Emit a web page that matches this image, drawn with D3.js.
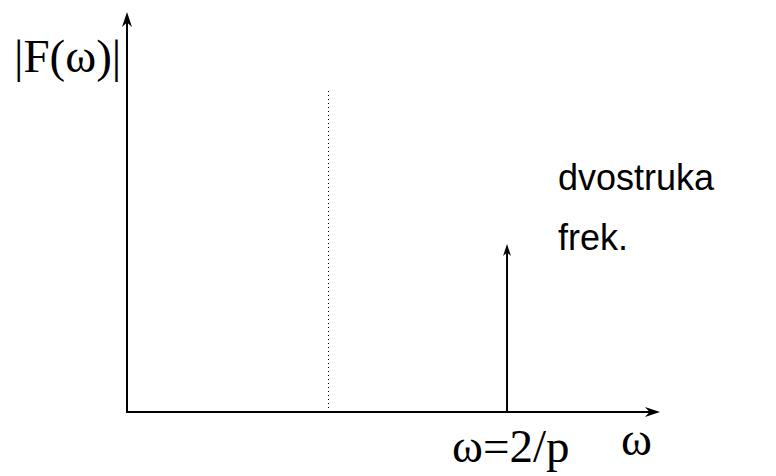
<!DOCTYPE html>
<html>
<head>
<meta charset="utf-8">
<script src="https://cdn.jsdelivr.net/npm/d3@7"></script>
<style>
  body { margin: 0; background: #fff; }
</style>
</head>
<body>
<svg id="chart"></svg>
<script>
// chart values (x and y in axis units, 0..100)
var dashedX = [37.7];          // dotted vertical guide
var dashedTop = [81];
var peakX = [71.3];            // single spectral line
var peakHeight = [42];
var yLabel = "|F(\u03c9)|";
var xLabel = "\u03c9";
var peakLabel = "\u03c9=2/p";
var noteLines = ["dvostruka", "frek."];

var width = 776, height = 476;
var margin = {left: 127, right: 116, top: 12, bottom: 64};

var svg = d3.select("#chart")
    .attr("width", width)
    .attr("height", height);

var x = d3.scaleLinear().domain([0, 100]).range([margin.left, width - margin.right]);
var y = d3.scaleLinear().domain([0, 100]).range([height - margin.bottom, margin.top]);

// stealth-like arrow head
function arrowHead(tx, ty, dir, len, half) {
    // dir: "up" or "right"
    var p;
    if (dir == "up") {
        p = [[tx, ty], [tx + half, ty + len], [tx, ty + len * 0.7], [tx - half, ty + len]];
    } else {
        p = [[tx, ty], [tx - len, ty - half], [tx - len * 0.7, ty], [tx - len, ty + half]];
    }
    svg.append("path")
        .attr("d", "M" + p.map(d => d.join(",")).join("L") + "Z")
        .attr("fill", "black");
}

// axes
svg.append("line")
    .attr("x1", x(0)).attr("y1", y(0))
    .attr("x2", x(0)).attr("y2", y(100) + 8)
    .attr("stroke", "black").attr("stroke-width", 2);
arrowHead(x(0), y(100), "up", 15, 5);

svg.append("line")
    .attr("x1", x(0) - 1).attr("y1", y(0))
    .attr("x2", x(100) - 8).attr("y2", y(0))
    .attr("stroke", "black").attr("stroke-width", 2);
arrowHead(x(100), y(0), "right", 15, 5);

// dotted guide
svg.selectAll(".guide")
    .data(dashedX)
    .enter().append("line")
    .attr("class", "guide")
    .attr("x1", d => Math.round(x(d)) + 0.5)
    .attr("x2", d => Math.round(x(d)) + 0.5)
    .attr("y1", y(0))
    .attr("y2", (d, i) => y(dashedTop[i]))
    .attr("stroke", "black")
    .attr("stroke-width", 1)
    .attr("stroke-dasharray", "1,3");

// spectral line with arrow
peakX.forEach(function(px, i) {
    svg.append("line")
        .attr("x1", x(px)).attr("y1", y(0))
        .attr("x2", x(px)).attr("y2", y(peakHeight[i]) + 6)
        .attr("stroke", "black").attr("stroke-width", 2);
    arrowHead(x(px), y(peakHeight[i]), "up", 12, 4);
});

// labels
svg.append("text")
    .attr("x", 14).attr("y", 72)
    .style("font-family", "'Liberation Serif', 'Times New Roman', serif")
    .style("font-size", "47px")
    .text(yLabel);

svg.append("text")
    .attr("x", 452).attr("y", 462)
    .style("font-family", "'Liberation Serif', 'Times New Roman', serif")
    .style("font-size", "47px")
    .text(peakLabel);

svg.append("text")
    .attr("x", 621).attr("y", 455)
    .style("font-family", "'Liberation Serif', 'Times New Roman', serif")
    .style("font-size", "47px")
    .text(xLabel);

svg.selectAll(".note")
    .data(noteLines)
    .enter().append("text")
    .attr("class", "note")
    .attr("x", 558)
    .attr("y", (d, i) => 190 + i * 60)
    .style("font-family", "'Liberation Sans', Arial, sans-serif")
    .style("font-size", "36px")
    .text(d => d);
</script>
</body>
</html>
